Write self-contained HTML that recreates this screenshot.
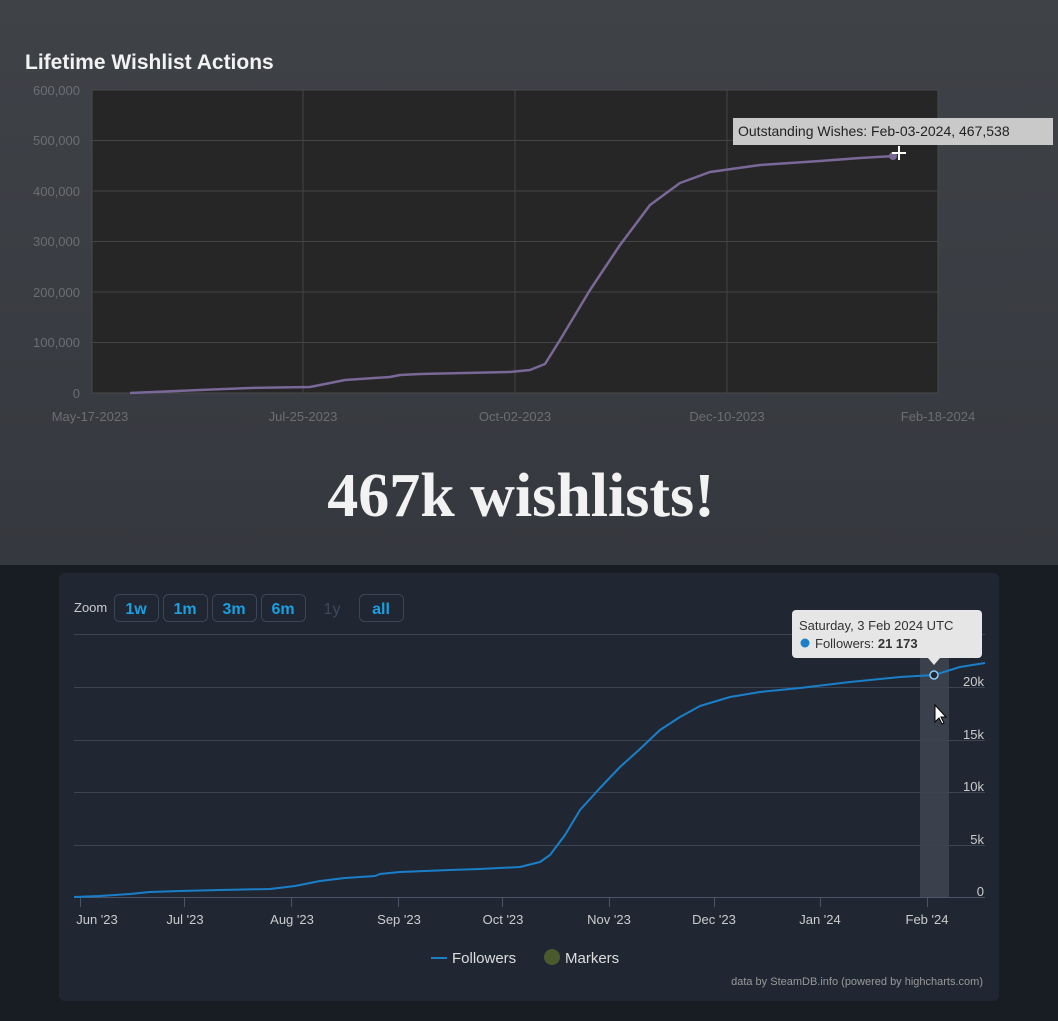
<!DOCTYPE html><html><head><style>
body{margin:0;width:1058px;height:1016px;overflow:hidden;background:#181c23;font-family:"Liberation Sans",sans-serif}
</style></head><body>
<svg width="1058" height="1016" xmlns="http://www.w3.org/2000/svg">
<defs><linearGradient id="g" x1="0" y1="0" x2="0" y2="1"><stop offset="0" stop-color="#3f4247"/><stop offset="1" stop-color="#35383e"/></linearGradient></defs>
<rect x="0" y="0" width="1058" height="565" fill="url(#g)"/>
<text x="25" y="69" font-size="21" font-weight="bold" fill="#f2f2f2">Lifetime Wishlist Actions</text>
<rect x="92" y="90" width="846" height="303" fill="#262626" stroke="#4a4a4a"/>
<g stroke="#444" stroke-width="1">
<line x1="92" y1="140.5" x2="938" y2="140.5"/><line x1="92" y1="191" x2="938" y2="191"/><line x1="92" y1="241.5" x2="938" y2="241.5"/><line x1="92" y1="292" x2="938" y2="292"/><line x1="92" y1="342.5" x2="938" y2="342.5"/>
<line x1="303" y1="90" x2="303" y2="393"/><line x1="515" y1="90" x2="515" y2="393"/><line x1="727" y1="90" x2="727" y2="393"/></g>
<g font-size="13" fill="#6c6e72" text-anchor="end">
<text x="80" y="95">600,000</text><text x="80" y="145">500,000</text><text x="80" y="196">400,000</text><text x="80" y="246">300,000</text><text x="80" y="297">200,000</text><text x="80" y="347">100,000</text><text x="80" y="398">0</text></g>
<g font-size="13" fill="#6c6e72" text-anchor="middle">
<text x="90" y="421">May-17-2023</text><text x="303" y="421">Jul-25-2023</text><text x="515" y="421">Oct-02-2023</text><text x="727" y="421">Dec-10-2023</text><text x="938" y="421">Feb-18-2024</text></g>
<polyline fill="none" stroke="#7a6898" stroke-width="2.5" stroke-linejoin="round" points="130,393 200,390 250,388 310,387 320,385 345,380 390,377 400,375 420,374 510,372 530,370 545,364 560,340 590,290 620,245 650,205 680,183 710,172 760,165 820,161 860,158 895,156"/>
<circle cx="893" cy="156" r="4" fill="#7a6898"/>
<rect x="733" y="118" width="320" height="27" fill="#c9c9c9"/>
<text x="738" y="136" font-size="14" fill="#222">Outstanding Wishes: Feb-03-2024, 467,538</text>
<path d="M899 146v14M892 153h14" stroke="#fff" stroke-width="2"/>
<text x="521" y="516" font-size="62" font-weight="bold" fill="#f2f2f2" text-anchor="middle" font-family="Liberation Serif,serif">467k wishlists!</text>

<rect x="59" y="573" width="940" height="428" rx="6" fill="#202733"/>
<text x="74" y="612" font-size="13" fill="#ccc">Zoom</text>
<g fill="none" stroke="#3a4658"><rect x="114.5" y="594.5" width="44" height="27" rx="5"/><rect x="163.5" y="594.5" width="44" height="27" rx="5"/><rect x="212.5" y="594.5" width="44" height="27" rx="5"/><rect x="261.5" y="594.5" width="44" height="27" rx="5"/><rect x="359.5" y="594.5" width="44" height="27" rx="5"/></g>
<g font-size="16" font-weight="bold" fill="#1a9fe0" text-anchor="middle"><text x="136" y="614">1w</text><text x="185" y="614">1m</text><text x="234" y="614">3m</text><text x="283" y="614">6m</text><text x="332" y="614" fill="#3d4a5c" font-weight="normal">1y</text><text x="381" y="614">all</text></g>
<rect x="920" y="634" width="29" height="263" fill="#3a414d"/>
<g stroke="#3b4452"><line x1="74" y1="634.5" x2="985" y2="634.5"/><line x1="74" y1="687.5" x2="985" y2="687.5"/><line x1="74" y1="740.5" x2="985" y2="740.5"/><line x1="74" y1="792.5" x2="985" y2="792.5"/><line x1="74" y1="845.5" x2="985" y2="845.5"/><line x1="74" y1="897.5" x2="985" y2="897.5" stroke="#4a5466"/></g>
<g stroke="#4a5466"><line x1="80.5" y1="898" x2="80.5" y2="907"/><line x1="184.5" y1="898" x2="184.5" y2="907"/><line x1="291.5" y1="898" x2="291.5" y2="907"/><line x1="398.5" y1="898" x2="398.5" y2="907"/><line x1="502.5" y1="898" x2="502.5" y2="907"/><line x1="609.5" y1="898" x2="609.5" y2="907"/><line x1="714.5" y1="898" x2="714.5" y2="907"/><line x1="820.5" y1="898" x2="820.5" y2="907"/><line x1="927.5" y1="898" x2="927.5" y2="907"/></g>
<g font-size="13" fill="#ccc" text-anchor="end"><text x="984" y="686">20k</text><text x="984" y="739">15k</text><text x="984" y="791">10k</text><text x="984" y="844">5k</text><text x="984" y="896">0</text></g>
<g font-size="13" fill="#ccc" text-anchor="middle"><text x="97" y="924">Jun '23</text><text x="185" y="924">Jul '23</text><text x="292" y="924">Aug '23</text><text x="399" y="924">Sep '23</text><text x="503" y="924">Oct '23</text><text x="609" y="924">Nov '23</text><text x="714" y="924">Dec '23</text><text x="820" y="924">Jan '24</text><text x="927" y="924">Feb '24</text></g>
<polyline fill="none" stroke="#1a7fc8" stroke-width="2" stroke-linejoin="round" points="74,897 100,896 130,894 150,892 180,891 220,890 270,889 295,886 320,881 345,878 375,876 380,874 400,872 450,870 480,869 520,867 540,862 550,855 565,835 580,810 600,788 620,767 640,749 660,730 680,717 700,706 730,697 760,692 800,688 850,682 900,677 934,675 960,667 985,663"/>
<circle cx="934" cy="675" r="4" fill="#202733" stroke="#8ecbf5" stroke-width="1.5"/>
<rect x="792" y="610" width="190" height="48" rx="4" fill="#e6e6e6"/>
<path d="M928 658l6 7 6-7z" fill="#e6e6e6"/>
<text x="799" y="630" font-size="13" fill="#333">Saturday, 3 Feb 2024 UTC</text>
<circle cx="805" cy="643" r="4.5" fill="#1a7fc8"/>
<text x="815" y="648" font-size="13" fill="#333">Followers: <tspan font-weight="bold">21 173</tspan></text>
<path d="M935 705v17l4-4 3 6 2-1-3-6h5z" fill="#fff" stroke="#000" stroke-width="1"/>
<line x1="431" y1="958" x2="447" y2="958" stroke="#1a7fc8" stroke-width="2"/>
<text x="452" y="963" font-size="15" fill="#ddd">Followers</text>
<circle cx="552" cy="957" r="8" fill="#4b5a2c"/>
<text x="565" y="963" font-size="15" fill="#ddd">Markers</text>
<text x="983" y="985" font-size="11" fill="#999" text-anchor="end">data by SteamDB.info (powered by highcharts.com)</text>
</svg>
</body></html>
